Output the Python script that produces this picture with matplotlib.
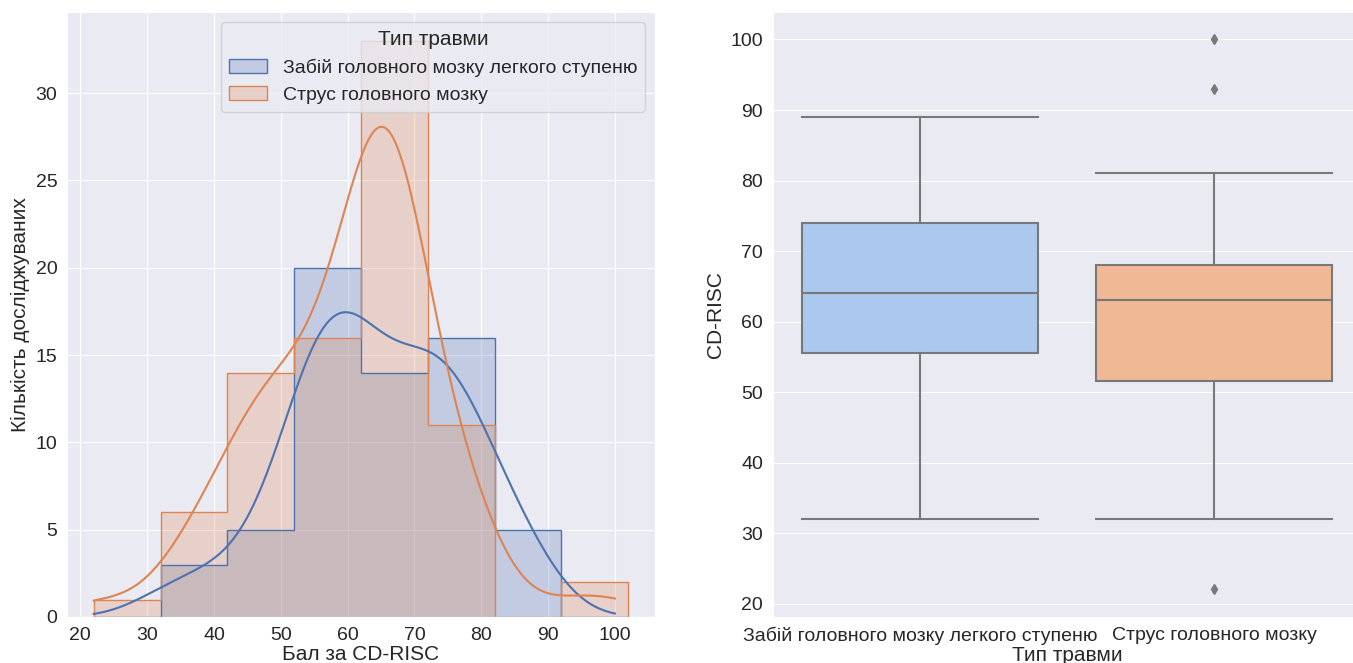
import numpy as np
import matplotlib
matplotlib.use("Agg")
import matplotlib.pyplot as plt
from matplotlib.patches import Patch

# CD-RISC scores per group
zabii = [32, 36, 40,
         43, 46, 48, 50, 51,
         52, 53, 53, 54, 54, 55, 55, 55, 56, 57, 57, 58, 58, 59, 59, 60, 60, 60, 61, 61,
         62, 62, 63, 64, 64, 65, 66, 67, 68, 68, 69, 70, 70, 71,
         72, 72, 73, 73, 74, 74, 75, 75, 76, 77, 77, 78, 79, 80, 80, 81,
         83, 84, 86, 87, 89]
strus = [22,
         32, 35, 37, 39, 40, 41,
         42, 43, 44, 45, 46, 47, 47, 48, 48, 49, 50, 50, 51, 51,
         52, 53, 54, 55, 55, 56, 57, 57, 58, 58, 59, 59, 60, 60, 61, 61,
         62, 62, 63, 63, 63, 64, 64, 64, 64, 65, 65, 65, 65, 65, 66, 66, 66, 66, 66,
         67, 67, 67, 67, 67, 68, 68, 68, 69, 69, 69, 70, 70, 71,
         72, 72, 73, 74, 75, 76, 77, 78, 79, 80, 81,
         93, 100]
groups = ["Забій головного мозку легкого ступеню", "Струс головного мозку"]
binwidth = 10

plt.rcParams['font.family'] = ['Liberation Sans', 'DejaVu Sans']
plt.rcParams['axes.facecolor'] = '#EAEAF2'
plt.rcParams['axes.edgecolor'] = 'white'
plt.rcParams['grid.color'] = 'white'
plt.rcParams['axes.grid'] = True
plt.rcParams['axes.axisbelow'] = True
plt.rcParams['xtick.bottom'] = False
plt.rcParams['ytick.left'] = False
plt.rcParams['font.size'] = 14
plt.rcParams['axes.labelsize'] = 15
plt.rcParams['text.color'] = '.15'
plt.rcParams['axes.labelcolor'] = '.15'
plt.rcParams['xtick.color'] = '.15'
plt.rcParams['ytick.color'] = '.15'

deep = ['#4C72B0', '#DD8452']
pastel = ['#ABC9EE', '#F0B894']


def kde_curve(vals, grid, scale):
    vals = np.asarray(vals, float)
    n = len(vals)
    bw = np.std(vals, ddof=1) * n ** (-1 / 5)
    d = np.exp(-0.5 * ((grid[:, None] - vals[None, :]) / bw) ** 2).sum(axis=1)
    return d / (n * bw * np.sqrt(2 * np.pi)) * scale


fig = plt.figure(figsize=(13.53, 6.63), dpi=100)
ax1 = fig.add_axes([0.0495, 0.0694, 0.4346, 0.9125])
ax2 = fig.add_axes([0.5713, 0.0694, 0.4346, 0.9125])

# histogram + kde
allv = zabii + strus
lo, hi = min(allv), max(allv)
edges = np.arange(lo, hi + binwidth, binwidth)
grid = np.linspace(lo, hi, 200)
for vals, c in zip([zabii, strus], deep):
    ax1.hist(vals, bins=edges, histtype='stepfilled', facecolor=c, alpha=0.25, edgecolor='none')
    ax1.hist(vals, bins=edges, histtype='step', color=c, linewidth=1)
for vals, c in zip([zabii, strus], deep):
    ax1.plot(grid, kde_curve(vals, grid, len(vals) * binwidth), color=c, linewidth=1.5)
ax1.set_xlabel('Бал за CD-RISC', labelpad=1)
ax1.set_ylabel('Кількість досліджуваних')
ax1.set_xticks(range(20, 101, 10))
handles = [Patch(facecolor=matplotlib.colors.to_rgba(c, 0.25), edgecolor=c, linewidth=1) for c in deep]
leg = ax1.legend(handles, groups, title='Тип травми', loc='upper right', fontsize=14, title_fontsize=15)

# boxplot
gray = '0.47'
bp = ax2.boxplot([zabii, strus], positions=[0, 1], widths=0.8, patch_artist=True,
                 boxprops=dict(edgecolor=gray, linewidth=1.5),
                 whiskerprops=dict(color=gray, linewidth=1.5),
                 capprops=dict(color=gray, linewidth=1.5),
                 medianprops=dict(color=gray, linewidth=1.5),
                 flierprops=dict(marker='d', markersize=5, markerfacecolor=gray,
                                 markeredgecolor=gray))
for patch, c in zip(bp['boxes'], pastel):
    patch.set_facecolor(c)
for cap in bp['caps']:
    x = cap.get_xdata()
    m = x.mean()
    cap.set_xdata([m - 0.4, m + 0.4])
ax2.set_xlim(-0.5, 1.5)
ax2.set_xticks([0, 1])
ax2.set_xticklabels(groups)
ax2.xaxis.grid(False)
ax2.set_xlabel('Тип травми', labelpad=1)
ax2.set_ylabel('CD-RISC')

fig.savefig('out.png', dpi=100)
